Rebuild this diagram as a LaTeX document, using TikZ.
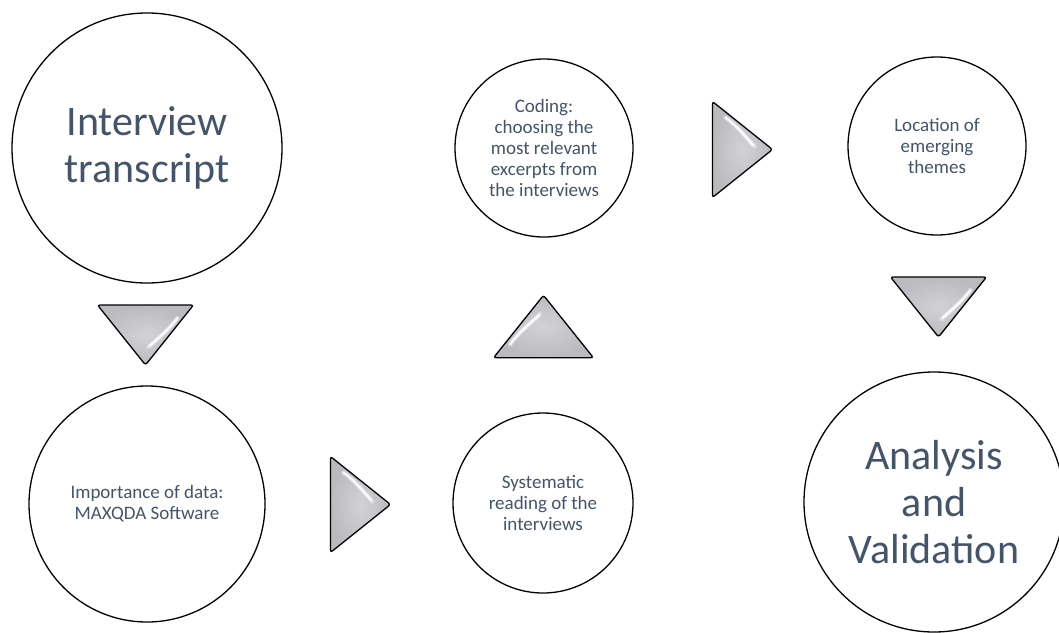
\documentclass[tikz,border=0pt]{standalone}
\usepackage{fontspec}
\setmainfont{Carlito}
\definecolor{txt}{HTML}{44546A}
\definecolor{trilight}{HTML}{D2D2D6}
\definecolor{tridark}{HTML}{BBBBBF}
\tikzset{
  arrowtri/.pic={
    \path[draw=black,line width=1.3pt,rounded corners=2.5pt,shading=radial,
          inner color=trilight,outer color=tridark]
      (-48,-30) -- (48,-30) -- (0,30) -- cycle;
    \draw[white,line width=4.5pt,line cap=round,opacity=0.35]
      (3,12) .. controls (14,2) and (24,-6) .. (32,-17);
    \draw[white,line width=2.2pt,line cap=round,opacity=0.9]
      (4,11) .. controls (14,2) and (24,-6) .. (32,-17);
  }
}
\begin{document}
\begin{tikzpicture}[x=1pt,y=-1pt,
  stage/.style={circle,draw=black,line width=1.3pt,inner sep=0pt,align=center,
    text=txt,font=\fontsize{19}{21}\selectfont},
  bigstage/.style={stage,font=\fontsize{42}{47}\selectfont}]
\useasboundingbox (0,0) rectangle (1059,632);
\clip (0,0) rectangle (1059,632);
\fill[white] (0,0) rectangle (1059,632);

\node[bigstage,minimum size=270pt] (c1) at (147,148) {Interview\\transcript};
\node[stage,minimum size=236pt] (c2) at (147,504) {Importance of data:\\MAXQDA Software};
\node[stage,minimum size=180pt] (c3) at (543,503) {Systematic\\reading of the\\interviews};
\node[stage,minimum size=178pt] (c4) at (544,148) {Coding:\\choosing the\\most relevant\\excerpts from\\the interviews};
\node[stage,minimum size=178pt] (c5) at (937,146) {Location of\\emerging\\themes};
\node[bigstage,minimum size=260pt] (c6) at (934,502) {Analysis\\and\\Validation};

\pic at (145.5,335) {arrowtri};
\pic[rotate=90] at (360.5,504.5) {arrowtri};
\pic[rotate=180,scale=1.04] at (543.5,326.5) {arrowtri};
\pic[rotate=90] at (742.5,149.5) {arrowtri};
\pic at (938.5,307) {arrowtri};
\end{tikzpicture}
\end{document}
